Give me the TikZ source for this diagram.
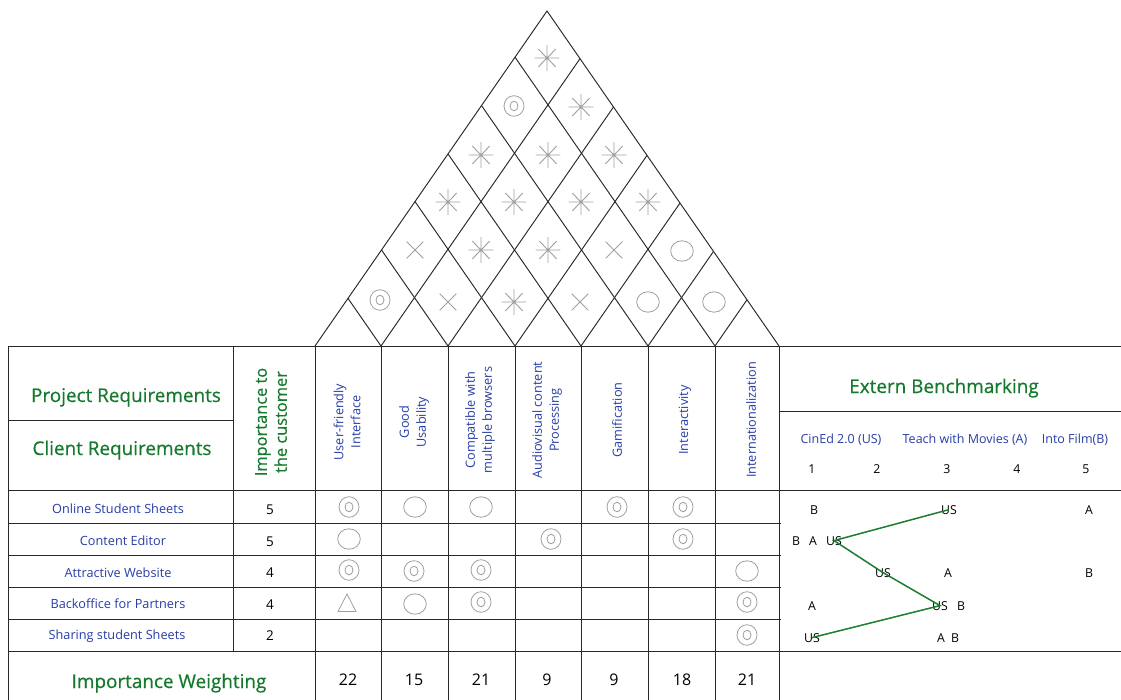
\documentclass[tikz,border=0pt]{standalone}
\usepackage{fontspec}
\setmainfont{Open Sans}
\newfontfamily\hqheadfont{Open Sans}[FakeBold=0.5]
\definecolor{hqgreen}{RGB}{22,122,46}
\definecolor{hqblue}{RGB}{40,62,165}
\definecolor{hqline}{RGB}{40,40,40}
\definecolor{hqsym}{RGB}{160,160,160}
\definecolor{hqtrend}{RGB}{28,125,48}

\tikzset{
  gridline/.style={line width=0.95pt, draw=hqline},
  symline/.style={line width=0.8pt, draw=hqsym},
  heading/.style={text=hqgreen, font=\hqheadfont\fontsize{18.9}{22}\selectfont, inner sep=0pt, anchor=base},
  rowlabel/.style={text=hqblue, font=\fontsize{12.7}{15}\selectfont, inner sep=0pt, anchor=base},
  colhead/.style={text=hqblue, font=\fontsize{12.7}{17}\selectfont, rotate=90, align=center, inner sep=0pt},
  impnum/.style={font=\fontsize{13.5}{16}\selectfont, inner sep=0pt, anchor=base},
  weightnum/.style={font=\fontsize{16}{19}\selectfont, inner sep=0pt, anchor=base},
  benchhead/.style={text=hqblue, font=\fontsize{12.5}{15}\selectfont, inner sep=0pt, anchor=base},
  benchmark/.style={font=\fontsize{12.3}{15}\selectfont, inner sep=0pt, anchor=base},
  trend/.style={line width=1.5pt, draw=hqtrend},
  % relationship symbols
  pics/hqstrong/.style={code={
    \draw[symline] (0,0) ellipse[x radius=10, y radius=10.3];
    \draw[symline] (0,0) ellipse[x radius=4, y radius=4.8];}},
  pics/hqmedium/.style={code={
    \draw[symline] (0,0) ellipse[x radius=11.3, y radius=10.2];}},
  pics/hqweak/.style={code={
    \draw[symline] (0,-9) -- (9,8.5) -- (-9,8.5) -- cycle;}},
  % correlation symbols in the roof
  pics/hqpos/.style={code={
    \draw[symline, line width=0.9pt] (-12.3,0) -- (12.3,0) (0,-12.8) -- (0,12.8)
      (-8.7,-8.9) -- (8.7,8.9) (-8.7,8.9) -- (8.7,-8.9);}},
  pics/hqneg/.style={code={
    \draw[symline] (-8.3,-8.3) -- (8.3,8.3) (-8.3,8.3) -- (8.3,-8.3);}},
}

\begin{document}
\begin{tikzpicture}[x=1pt, y=-1pt]
\useasboundingbox[fill=white] (0,0) rectangle (1121,700);

% ---------- roof ----------
\draw[gridline] (315,346) -- (547,11) -- (779,346);
\foreach \xk in {381,448,515,581,648,715} {
  \draw[gridline] ({(315+\xk)/2},{346-1.444*(\xk-315)/2}) -- (\xk,346)
                  -- ({(\xk+779)/2},{346-1.444*(779-\xk)/2});
}

% roof correlations
\pic at (547,58) {hqpos};
\pic at (514,106) {hqstrong};
\pic at (581,107) {hqpos};
\pic at (481,155) {hqpos};
\pic at (548,155) {hqpos};
\pic at (614,155) {hqpos};
\pic at (448,202) {hqpos};
\pic at (514,202) {hqpos};
\pic at (581,202) {hqpos};
\pic at (648,202) {hqpos};
\pic at (415,250) {hqneg};
\pic at (481,250) {hqpos};
\pic at (548,250) {hqpos};
\pic at (614,250) {hqneg};
\pic at (682,251) {hqmedium};
\pic at (380,300) {hqstrong};
\pic at (448,302) {hqneg};
\pic at (514,302) {hqpos};
\pic at (580,302) {hqneg};
\pic at (648,302) {hqmedium};
\pic at (714,302) {hqmedium};

% ---------- table frame ----------
\draw[gridline] (8,346) -- (1121,346);
\draw[gridline] (8,490) -- (1121,490);
\draw[gridline] (8,651) -- (1121,651);
\draw[gridline] (779,411) -- (1121,411);
\draw[gridline] (8,420) -- (233,420);
\foreach \y in {523,555,587,619} \draw[gridline] (8,\y) -- (781,\y);
\draw[gridline] (8,346) -- (8,700);
\draw[gridline] (233,346) -- (233,651);
\foreach \x in {315,381,448,515,581,648,715,779} \draw[gridline] (\x,346) -- (\x,700);

% ---------- headings ----------
\node[heading] (projreq) at (126,402) {Project Requirements};
\node[heading] (clientreq) at (122,455) {Client Requirements};
\node[heading] (weighting) at (169,688) {Importance Weighting};
\node[heading] (extbench) at (944,393) {Extern Benchmarking};
\node[text=hqgreen, font=\hqheadfont\fontsize{16.4}{20}\selectfont, rotate=90, align=center, inner sep=0pt]
  (importance) at (271,422) {Importance to\\the customer};

% ---------- technical requirements ----------
\node[colhead] (ch1) at (347,422) {User-friendly\\Interface};
\node[colhead] (ch2) at (414,422) {Good\\Usability};
\node[colhead] (ch3) at (480,420) {Compatible with\\multiple browsers};
\node[colhead] (ch4) at (547,420) {Audiovisual content\\Processing};
\node[colhead] (ch5) at (617,420) {Gamification};
\node[colhead] (ch6) at (685,420) {Interactivity};
\node[colhead] (ch7) at (751,420) {Internationalization};

% ---------- customer requirements ----------
\node[rowlabel] (cr1) at (118,513) {Online Student Sheets};
\node[rowlabel] (cr2) at (123,545) {Content Editor};
\node[rowlabel] (cr3) at (118,577) {Attractive Website};
\node[rowlabel] (cr4) at (118,608) {Backoffice for Partners};
\node[rowlabel] (cr5) at (117,639) {Sharing student Sheets};

\node[impnum] (w1) at (270,514) {5};
\node[impnum] (w2) at (270,546) {5};
\node[impnum] (w3) at (270,577) {4};
\node[impnum] (w4) at (270,609) {4};
\node[impnum] (w5) at (270,640) {2};

% ---------- relationship matrix ----------
\pic at (349,507) {hqstrong};
\pic at (415,507) {hqmedium};
\pic at (481,507) {hqmedium};
\pic at (617,507) {hqstrong};
\pic at (683,507) {hqstrong};
\pic at (349,539) {hqmedium};
\pic at (551,539) {hqstrong};
\pic at (683,539) {hqstrong};
\pic at (349,570) {hqstrong};
\pic at (414,571) {hqstrong};
\pic at (481,570) {hqstrong};
\pic at (747,571) {hqmedium};
\pic at (347,603) {hqweak};
\pic at (415,604) {hqmedium};
\pic at (481,602) {hqstrong};
\pic at (747,602) {hqstrong};
\pic at (747,635) {hqstrong};

% ---------- importance weighting ----------
\node[weightnum] (iw1) at (348,685) {22};
\node[weightnum] (iw2) at (414,685) {15};
\node[weightnum] (iw3) at (481,685) {21};
\node[weightnum] (iw4) at (547,685) {9};
\node[weightnum] (iw5) at (614,685) {9};
\node[weightnum] (iw6) at (682,685) {18};
\node[weightnum] (iw7) at (747,685) {21};

% ---------- external benchmarking ----------
\node[benchhead] (cined) at (841,443) {CinEd 2.0 (US)};
\node[benchhead] (teach) at (965,443) {Teach with Movies (A)};
\node[benchhead] (intofilm) at (1075,443) {Into Film(B)};
\foreach \n/\x in {1/812,2/877,3/947,4/1017,5/1086}
  \node[benchmark] (scale\n) at (\x,473) {\n};

\node[benchmark] (b1) at (814,514) {B};
\node[benchmark] (us1) at (949,514) {US};
\node[benchmark] (a1) at (1089,514) {A};
\node[benchmark] (b2) at (796,545) {B};
\node[benchmark] (a2) at (813,545) {A};
\node[benchmark] (us2) at (834,545) {US};
\node[benchmark] (us3) at (883,577) {US};
\node[benchmark] (a3) at (948,577) {A};
\node[benchmark] (b3) at (1089,577) {B};
\node[benchmark] (a4) at (812,610) {A};
\node[benchmark] (us4) at (940,610) {US};
\node[benchmark] (b4) at (961,610) {B};
\node[benchmark] (us5) at (812,642) {US};
\node[benchmark] (a5) at (941,642) {A};
\node[benchmark] (b5) at (955,642) {B};

\draw[trend] (us1.center) -- (us2.center) -- (us3.center) -- (us4.center) -- (us5.center);
\end{tikzpicture}
\end{document}
